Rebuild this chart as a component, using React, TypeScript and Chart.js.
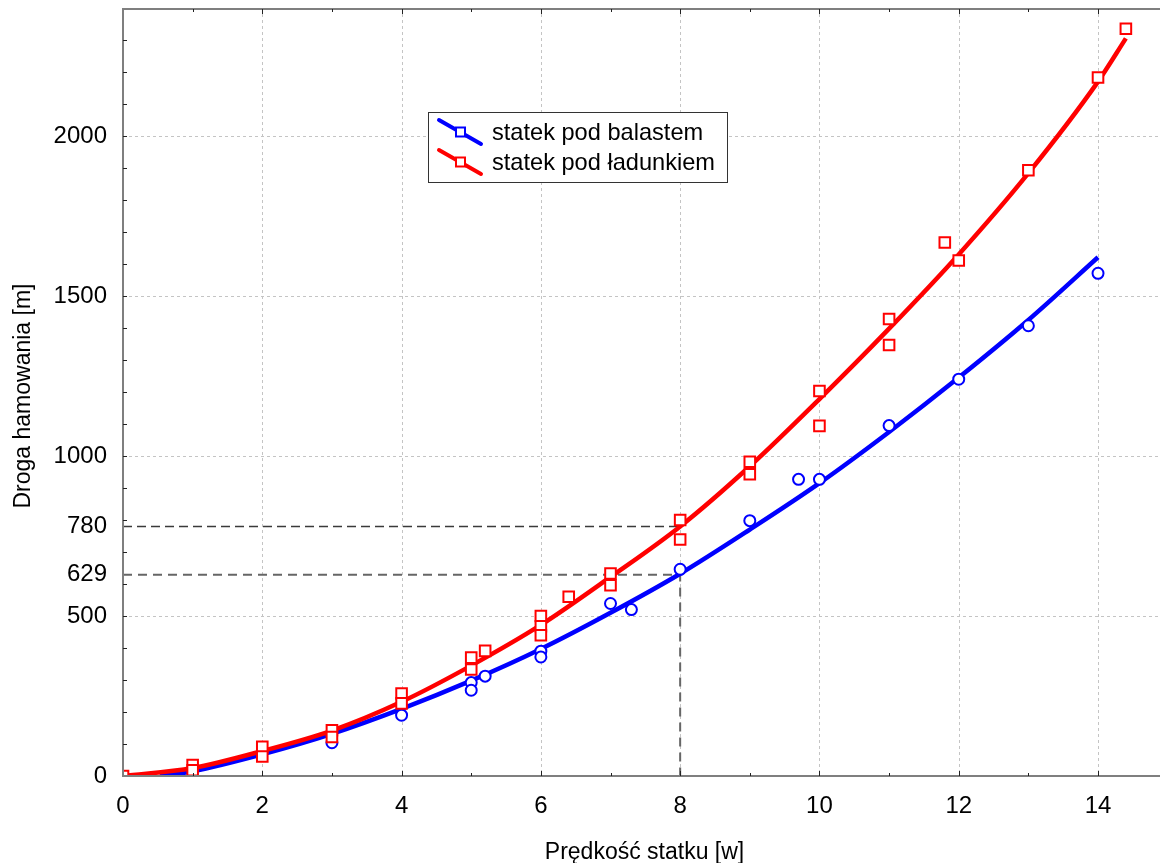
import React, { useEffect, useRef } from 'react';
import { Chart, registerables } from 'chart.js';

Chart.register(...registerables);

// ---- data ----
const xTickValues = [0, 2, 4, 6, 8, 10, 12, 14];
const yTickValues = [0, 500, 629, 780, 1000, 1500, 2000];
const yGridValues = [500, 1000, 1500, 2000];

// measured points: ship in ballast (blue circles)
const ballastX = [3, 4, 5, 5, 5.2, 6, 6, 7, 7.3, 8, 9, 9.7, 10, 11, 12, 13, 14];
const ballastY = [104, 190, 292, 268, 312, 390, 372, 539, 520, 646, 798, 927, 927, 1095, 1240, 1407, 1571];

// measured points: loaded ship (red squares)
const loadedX = [0, 1, 1, 2, 2, 3, 3, 4, 4, 5, 5, 5.2, 6, 6, 6, 6.4, 7, 7, 8, 8, 9, 9, 10, 10, 11, 11, 11.8, 12, 13, 14, 14.4];
const loadedY = [0, 34, 18, 91, 61, 143, 122, 258, 227, 370, 333, 391, 500, 468, 440, 560, 633, 596, 800, 739, 982, 943, 1203, 1094, 1428, 1347, 1667, 1611, 1893, 2183, 2335];

// fitted curves
const ballastFitX = [0.53, 1, 2, 3, 4, 5, 6, 7, 8, 9, 10, 11, 12, 13, 14];
const ballastFitY = [0, 15, 68, 132, 210, 298, 397, 510, 632, 770, 915, 1075, 1245, 1425, 1621];
const loadedFitX = [0, 1, 2, 3, 4, 5, 6, 7, 8, 9, 10, 11, 12, 13, 14, 14.4];
const loadedFitY = [0, 25, 78, 142, 232, 345, 472, 622, 780, 968, 1178, 1398, 1630, 1884, 2170, 2305];

// reading guides
const guide780X = [0, 8];
const guide780Y = [780, 780];
const guide629X = [0, 8, 8];
const guide629Y = [629, 629, 0];

const xMin = 0;
const xMax = 14.89;
const yMin = 0;
const yMax = 2400;

const legendLabels = ['statek pod balastem', 'statek pod ładunkiem'];
const xTitle = 'Prędkość statku [w]';
const yTitle = 'Droga hamowania [m]';

const FONT = '"Liberation Sans", Arial, sans-serif';

const pts = (xs: number[], ys: number[]) => xs.map((x, i) => ({ x, y: ys[i] }));

const framePlugin = {
  id: 'frame',
  beforeDatasetsDraw(chart: any) {
    const { ctx, chartArea: a, scales } = chart;
    const xs = scales.x;
    const ys = scales.y;
    ctx.save();
    ctx.strokeStyle = '#c4c4c4';
    ctx.lineWidth = 1;
    ctx.setLineDash([3, 3]);
    xTickValues.forEach((v) => {
      if (v === 0) return;
      const px = Math.round(xs.getPixelForValue(v)) + 0.5;
      ctx.beginPath();
      ctx.moveTo(px, a.top);
      ctx.lineTo(px, a.bottom);
      ctx.stroke();
    });
    yGridValues.forEach((v) => {
      const py = Math.round(ys.getPixelForValue(v)) + 0.5;
      ctx.beginPath();
      ctx.moveTo(a.left, py);
      ctx.lineTo(a.right, py);
      ctx.stroke();
    });
    ctx.restore();
  },
  afterDatasetsDraw(chart: any) {
    const { ctx, chartArea: a, scales } = chart;
    const xs = scales.x;
    const ys = scales.y;
    ctx.save();
    // axis frame
    ctx.strokeStyle = '#7f7f7f';
    ctx.lineWidth = 2;
    ctx.beginPath();
    ctx.moveTo(a.right, a.top + 1);
    ctx.lineTo(a.left, a.top + 1);
    ctx.lineTo(a.left, a.bottom);
    ctx.lineTo(a.right, a.bottom);
    ctx.stroke();
    // tick marks (inside)
    ctx.strokeStyle = '#222';
    ctx.lineWidth = 1;
    for (let v = 1; v < xMax; v += 1) {
      const px = Math.round(xs.getPixelForValue(v)) + 0.5;
      const len = v % 2 === 0 ? 5 : 3;
      ctx.beginPath();
      ctx.moveTo(px, a.bottom);
      ctx.lineTo(px, a.bottom - len);
      ctx.moveTo(px, a.top + 1);
      ctx.lineTo(px, a.top + 1 + len);
      ctx.stroke();
    }
    for (let v = 100; v < yMax; v += 100) {
      const py = Math.round(ys.getPixelForValue(v)) + 0.5;
      ctx.beginPath();
      ctx.moveTo(a.left, py);
      ctx.lineTo(a.left + 4, py);
      ctx.stroke();
    }
    ctx.restore();
  },
  afterDraw(chart: any) {
    const { ctx, chartArea: a } = chart;
    ctx.save();
    // legend box
    const bx = 428.5, by = 112.5, bw = 299, bh = 70;
    ctx.fillStyle = '#ffffff';
    ctx.fillRect(bx, by, bw, bh);
    ctx.strokeStyle = '#333';
    ctx.lineWidth = 1;
    ctx.strokeRect(bx, by, bw, bh);
    const colors = ['#0000ff', '#ff0000'];
    const rows = [132, 162];
    rows.forEach((cy, i) => {
      ctx.strokeStyle = colors[i];
      ctx.lineWidth = 4;
      ctx.lineCap = 'round';
      ctx.beginPath();
      ctx.moveTo(439, cy - 12);
      ctx.lineTo(481, cy + 12);
      ctx.stroke();
      ctx.lineCap = 'butt';
      ctx.lineWidth = 2;
      ctx.fillStyle = '#ffffff';
      ctx.fillRect(456, cy - 4.5, 9, 9);
      ctx.strokeRect(456, cy - 4.5, 9, 9);
      ctx.fillStyle = '#000';
      ctx.font = `23.6px ${FONT}`;
      ctx.textAlign = 'left';
      ctx.textBaseline = 'middle';
      ctx.fillText(legendLabels[i], 492, cy + 1);
    });
    // axis titles
    ctx.fillStyle = '#000';
    ctx.font = `23px ${FONT}`;
    ctx.textAlign = 'center';
    ctx.textBaseline = 'alphabetic';
    ctx.fillText(xTitle, (a.left + a.right) / 2 + 3, 859);
    ctx.translate(30, (a.top + a.bottom) / 2 + 4);
    ctx.rotate(-Math.PI / 2);
    ctx.fillText(yTitle, 0, 0);
    ctx.restore();
  },
};

export default function App() {
  const canvasRef = useRef<HTMLCanvasElement | null>(null);

  useEffect(() => {
    const canvas = canvasRef.current;
    if (!canvas) return;
    const chart = new Chart(canvas, {
      type: 'scatter',
      data: {
        datasets: [
          {
            label: 'guide780',
            data: pts(guide780X, guide780Y),
            showLine: true,
            borderColor: '#3a3a3a',
            borderWidth: 1.5,
            borderDash: [9, 5],
            pointRadius: 0,
            clip: 0,
            order: 10,
          },
          {
            label: 'guide629',
            data: pts(guide629X, guide629Y),
            showLine: true,
            borderColor: '#666666',
            borderWidth: 2,
            borderDash: [9, 6],
            pointRadius: 0,
            clip: 0,
            order: 9,
          },
          {
            label: legendLabels[0] + ' fit',
            data: pts(ballastFitX, ballastFitY),
            showLine: true,
            borderColor: '#0000ff',
            borderWidth: 4.5,
            cubicInterpolationMode: 'monotone',
            pointRadius: 0,
            clip: 0,
            order: 6,
          },
          {
            label: legendLabels[1] + ' fit',
            data: pts(loadedFitX, loadedFitY),
            showLine: true,
            borderColor: '#ff0000',
            borderWidth: 4.5,
            cubicInterpolationMode: 'monotone',
            pointRadius: 0,
            clip: 0,
            order: 5,
          },
          {
            label: legendLabels[0],
            data: pts(ballastX, ballastY),
            showLine: false,
            pointStyle: 'circle',
            pointRadius: 5.5,
            pointBorderWidth: 2,
            pointBorderColor: '#0000ff',
            pointBackgroundColor: '#ffffff',
            clip: 0,
            order: 4,
          },
          {
            label: legendLabels[1],
            data: pts(loadedX, loadedY),
            showLine: false,
            pointStyle: 'rect',
            pointRadius: 7.5,
            pointBorderWidth: 2,
            pointBorderColor: '#ff0000',
            pointBackgroundColor: '#ffffff',
            clip: 0,
            order: 3,
          },
        ],
      } as any,
      options: {
        responsive: false,
        animation: false,
        devicePixelRatio: 1,
        layout: { autoPadding: false, padding: { top: 8, right: 0, bottom: 0, left: 0 } },
        plugins: {
          legend: { display: false },
          tooltip: { enabled: false },
        },
        scales: {
          x: {
            type: 'linear',
            min: xMin,
            max: xMax,
            grid: { display: false },
            border: { display: false },
            ticks: {
              color: '#000',
              font: { family: FONT, size: 24 },
              padding: 8,
            },
            afterBuildTicks: (scale: any) => {
              scale.ticks = xTickValues.map((v) => ({ value: v }));
            },
            afterFit: (scale: any) => {
              scale.height = 87;
              scale.paddingLeft = 0;
              scale.paddingRight = 0;
            },
          },
          y: {
            type: 'linear',
            min: yMin,
            max: yMax,
            grid: { display: false },
            border: { display: false },
            ticks: {
              color: '#000',
              font: { family: FONT, size: 24 },
              padding: 8,
              callback: (v: any) => String(v),
            },
            afterBuildTicks: (scale: any) => {
              scale.ticks = yTickValues.map((v) => ({ value: v }));
            },
            afterFit: (scale: any) => {
              scale.width = 123;
              scale.paddingTop = 0;
              scale.paddingBottom = 0;
            },
          },
        },
      } as any,
      plugins: [framePlugin],
    });
    return () => chart.destroy();
  }, []);

  return (
    <div style={{ position: 'fixed', left: 0, top: 0, width: 1160, height: 863, background: '#fff' }}>
      <canvas ref={canvasRef} width={1160} height={863} style={{ display: 'block', width: 1160, height: 863 }} />
    </div>
  );
}
